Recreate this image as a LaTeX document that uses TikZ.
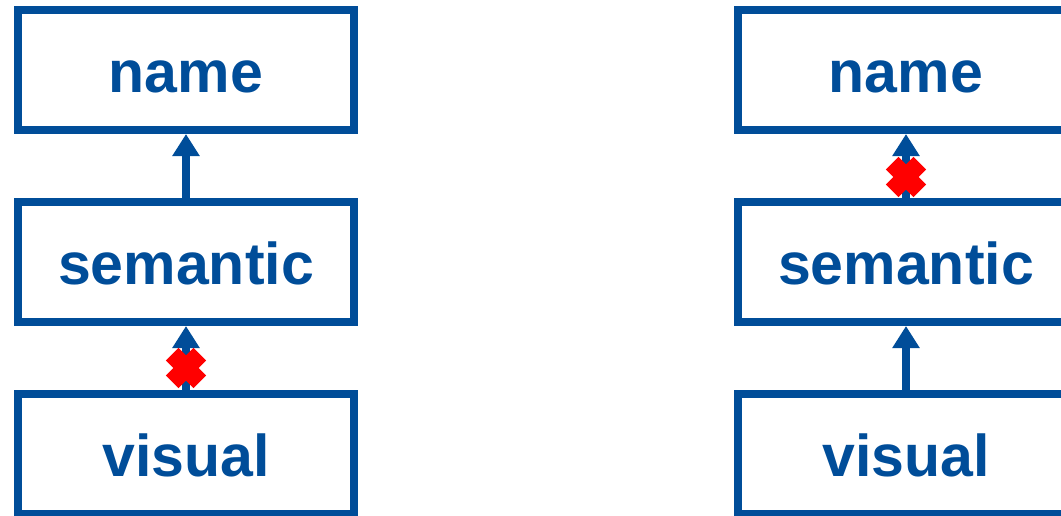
\documentclass[tikz,border=0pt]{standalone}
\usepackage{fontspec}
\setmainfont{Liberation Sans}
\usetikzlibrary{arrows.meta}
\definecolor{dblue}{RGB}{0,77,153}
\definecolor{xred}{RGB}{255,0,0}
\begin{document}
\begin{tikzpicture}[x=1pt,y=-1pt,
  box/.style={draw=dblue, line width=8pt, minimum width=336pt, minimum height=120pt,
    inner sep=0pt, text=dblue, font=\bfseries\fontsize{59}{59}\selectfont,
    text height=44pt, text depth=0pt},
  uparrow/.style={draw=dblue, line width=8pt, -{Triangle[width=26pt,length=22pt]}},
  xmark/.style={fill=xred}]
\useasboundingbox (0,0) rectangle (1061,515);
\clip (0,0) rectangle (1061,515);
% left column
\node[box] (ln) at (186,70) {name};
\node[box] (ls) at (186,262) {semantic};
\node[box] (lv) at (186,454) {visual};
% right column
\node[box] (rn) at (906,70) {name};
\node[box] (rs) at (906,262) {semantic};
\node[box] (rv) at (906,454) {visual};
% connectors
\draw[uparrow] (ls.north) -- (ln.south);
\draw[uparrow] (lv.north) -- (ls.south);
\draw[uparrow] (rs.north) -- (rn.south);
\draw[uparrow] (rv.north) -- (rs.south);
% red crosses
\coordinate (xa) at (186,368);
\coordinate (xb) at (906,177);
\foreach \c in {xa,xb}{
  \begin{scope}[shift={(\c)}]
    \fill[xmark, rotate=45] (-19.5,-9) rectangle (19.5,9);
    \fill[xmark, rotate=-45] (-19.5,-9) rectangle (19.5,9);
  \end{scope}
}
\end{tikzpicture}
\end{document}
